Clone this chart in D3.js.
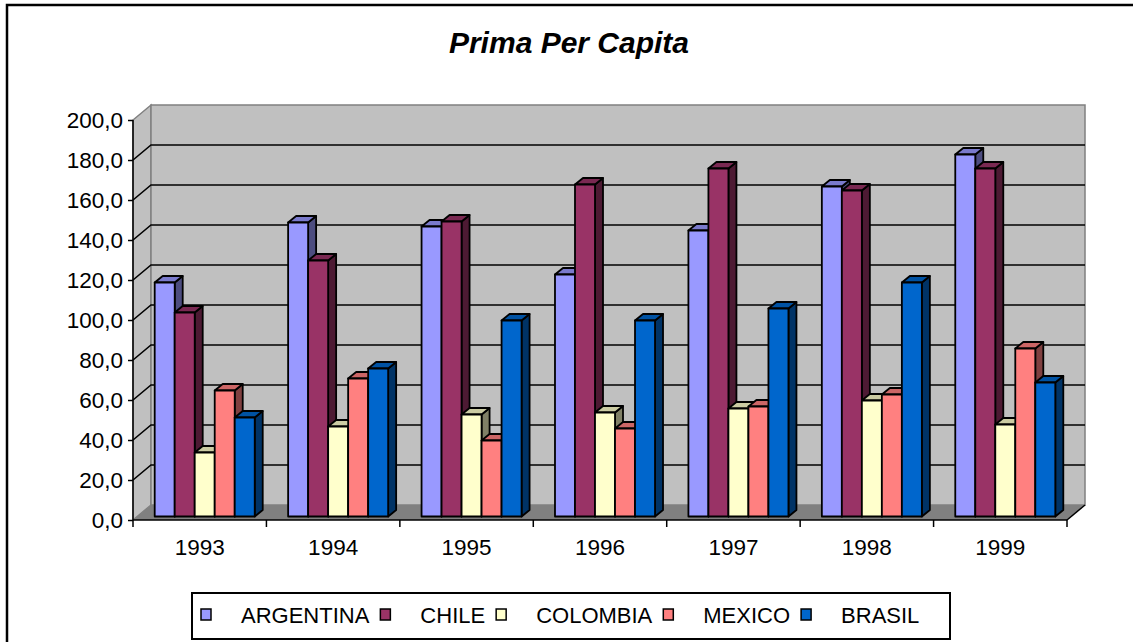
<!DOCTYPE html>
<html>
<head>
<meta charset="utf-8">
<script src="https://cdn.jsdelivr.net/npm/d3@7"></script>
<style>
  body { margin: 0; background: #fff; }
  svg text { font-family: 'Liberation Sans', Arial, sans-serif; fill: #000; }
  .axis text { font-size: 22.5px; }
  .axis path { display: none; }
  .axis line { stroke: #000; stroke-width: 1.5px; }
</style>
</head>
<body>
<div id="chart"></div>
<script>
const years = ['1993', '1994', '1995', '1996', '1997', '1998', '1999'];
const seriesNames = ['ARGENTINA', 'CHILE', 'COLOMBIA', 'MEXICO', 'BRASIL'];
const argentina = [117, 147, 145, 121, 143, 165, 181];
const chile = [102, 128, 147.5, 166, 174, 163, 174];
const colombia = [32, 45, 51, 52, 54, 58, 46];
const mexico = [63, 69, 38, 44, 55, 61, 84];
const brasil = [49.5, 74, 98, 98, 104, 117, 67];
const seriesColors = ['#9999FF', '#993366', '#FFFFCC', '#FF8080', '#0066CC'];
const yTicks = [0, 20, 40, 60, 80, 100, 120, 140, 160, 180, 200];

const allSeries = [argentina, chile, colombia, mexico, brasil];

const width = 1133, height = 642;
const plot = { left: 133, right: 1067, top: 120, bottom: 520 };
const depth = { dx: 18, dy: -15 };      // wall depth offset
const barFront = { dx: 5, dy: -3.5 };   // where bar fronts sit inside the depth
const barDepth = { dx: 8, dy: -6.5 };   // bar thickness in depth

const svg = d3.select('#chart').append('svg')
  .attr('width', width)
  .attr('height', height);

// outer frame (right and bottom edges fall outside the view)
svg.append('rect')
  .attr('x', 7).attr('y', 5)
  .attr('width', 1160).attr('height', 680)
  .attr('fill', 'none').attr('stroke', '#000').attr('stroke-width', 2.5);

svg.append('text')
  .attr('x', 569).attr('y', 53)
  .attr('text-anchor', 'middle')
  .style('font-size', '30px').style('font-weight', 'bold').style('font-style', 'italic')
  .text('Prima Per Capita');

const x0 = d3.scaleBand().domain(years).range([plot.left, plot.right]);
const x1 = d3.scaleBand().domain(seriesNames)
  .range([16.7, x0.bandwidth() - 16.7]);
const y = d3.scaleLinear().domain([0, 200]).range([plot.bottom, plot.top]);

const pts = a => a.map(p => p.join(',')).join(' ');

// side wall
svg.append('polygon')
  .attr('points', pts([
    [plot.left, y(200)], [plot.left + depth.dx, y(200) + depth.dy],
    [plot.left + depth.dx, y(0) + depth.dy], [plot.left, y(0)]
  ]))
  .attr('fill', '#C0C0C0').attr('stroke', '#808080').attr('stroke-width', 1.5);

// back wall
svg.append('rect')
  .attr('x', plot.left + depth.dx).attr('y', y(200) + depth.dy)
  .attr('width', plot.right - plot.left)
  .attr('height', y(0) - y(200))
  .attr('fill', '#C0C0C0').attr('stroke', '#808080').attr('stroke-width', 1.5);

// floor
svg.append('polygon')
  .attr('points', pts([
    [plot.left, y(0)], [plot.right, y(0)],
    [plot.right + depth.dx, y(0) + depth.dy], [plot.left + depth.dx, y(0) + depth.dy]
  ]))
  .attr('fill', '#808080');

// gridlines on back wall and side wall
const grid = yTicks.filter(t => t > 0 && t < 200);
svg.append('g').selectAll('polyline').data(grid).join('polyline')
  .attr('points', t => pts([
    [plot.left, y(t)], [plot.left + depth.dx, y(t) + depth.dy],
    [plot.right + depth.dx, y(t) + depth.dy]
  ]))
  .attr('fill', 'none').attr('stroke', '#000').attr('stroke-width', 1.6);

// bars
function shade(c, k) {
  const r = d3.rgb(c);
  return d3.rgb(r.r * k, r.g * k, r.b * k).formatHex();
}
const bars = [];
years.forEach((yr, ci) => {
  seriesNames.forEach((s, si) => {
    bars.push({ year: yr, name: s, value: allSeries[si][ci], color: seriesColors[si] });
  });
});
const gBars = svg.append('g')
  .attr('stroke', '#000').attr('stroke-width', 1.8).attr('stroke-linejoin', 'round');
bars.forEach(b => {
  const xl = x0(b.year) + x1(b.name) + barFront.dx;
  const xr = xl + x1.bandwidth();
  const yb = y(0) + barFront.dy;
  const yt = y(b.value) + barFront.dy;
  const g = gBars.append('g');
  g.append('polygon')
    .attr('points', pts([[xr, yt], [xr + barDepth.dx, yt + barDepth.dy],
      [xr + barDepth.dx, yb + barDepth.dy], [xr, yb]]))
    .attr('fill', shade(b.color, 0.5));
  g.append('polygon')
    .attr('points', pts([[xl, yt], [xl + barDepth.dx, yt + barDepth.dy],
      [xr + barDepth.dx, yt + barDepth.dy], [xr, yt]]))
    .attr('fill', shade(b.color, 0.8));
  g.append('rect')
    .attr('x', xl).attr('y', yt)
    .attr('width', xr - xl).attr('height', yb - yt)
    .attr('fill', b.color);
});

// floor front-right edge
svg.append('line')
  .attr('x1', plot.right).attr('y1', y(0))
  .attr('x2', plot.right + depth.dx).attr('y2', y(0) + depth.dy)
  .attr('stroke', '#000').attr('stroke-width', 1.5);

// axes
const locale = d3.formatLocale({ decimal: ',', thousands: '.', grouping: [3], currency: ['', ''] });
const fmt = locale.format('.1f');

svg.append('g')
  .attr('class', 'axis')
  .attr('transform', `translate(${plot.left},0)`)
  .call(d3.axisLeft(y).tickValues(yTicks).tickSize(5).tickSizeOuter(0).tickPadding(5).tickFormat(fmt));

svg.append('line')
  .attr('x1', plot.left).attr('y1', plot.top)
  .attr('x2', plot.left).attr('y2', plot.bottom)
  .attr('stroke', '#000').attr('stroke-width', 1.5);
svg.append('line')
  .attr('x1', plot.left).attr('y1', plot.bottom)
  .attr('x2', plot.right).attr('y2', plot.bottom)
  .attr('stroke', '#000').attr('stroke-width', 1.5);

// category boundary ticks
const edges = years.map(d => x0(d)).concat([plot.right]);
svg.append('g').selectAll('line').data(edges).join('line')
  .attr('x1', d => d).attr('x2', d => d)
  .attr('y1', plot.bottom).attr('y2', plot.bottom + 7)
  .attr('stroke', '#000').attr('stroke-width', 1.5);

svg.append('g')
  .attr('class', 'axis')
  .attr('transform', `translate(0,${plot.bottom})`)
  .call(d3.axisBottom(x0).tickSize(0).tickPadding(19))
  .selectAll('line').remove();

// legend
const legend = svg.append('g');
legend.append('rect')
  .attr('x', 192).attr('y', 593).attr('width', 758).attr('height', 46)
  .attr('fill', '#fff').attr('stroke', '#000').attr('stroke-width', 2);
let lx = 201;
seriesNames.forEach((s, i) => {
  legend.append('rect')
    .attr('x', lx).attr('y', 609).attr('width', 10).attr('height', 11)
    .attr('fill', seriesColors[i]).attr('stroke', '#000').attr('stroke-width', 1.5);
  const t = legend.append('text')
    .attr('x', lx + 40).attr('y', 623)
    .style('font-size', '22px')
    .text(s);
  lx += 40 + t.node().getComputedTextLength() + 11;
});
</script>
</body>
</html>
